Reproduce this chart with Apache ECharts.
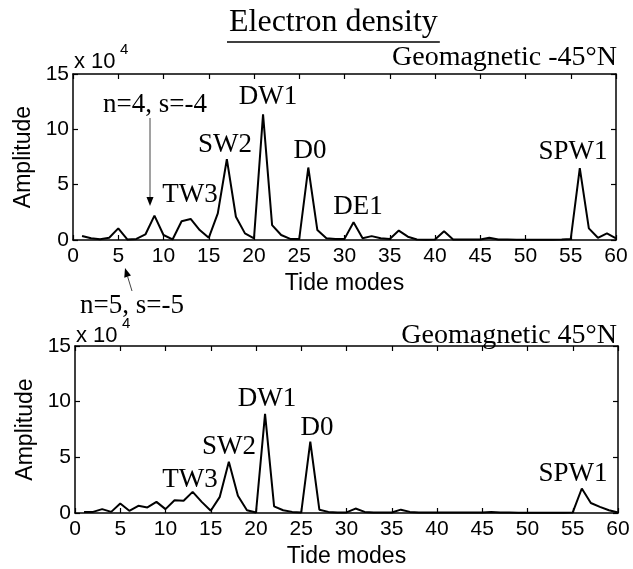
<!DOCTYPE html>
<html>
<head>
<meta charset="utf-8">
<script src="https://cdn.jsdelivr.net/npm/echarts@6/dist/echarts.min.js"></script>
<style>
  html, body { margin: 0; padding: 0; background: #fff; }
  #main { width: 633px; height: 569px; }
</style>
</head>
<body>
<div id="main"></div>
<script>
// tide mode index 1..60
var modes = [];
for (var i = 1; i <= 60; i++) modes.push(i);

// amplitude (x 10^4), geomagnetic -45N
var southAmp = [0.36, 0.15, 0.06, 0.2, 1.05, 0.05, 0.1, 0.5, 2.2, 0.45,
  0.05, 1.7, 1.9, 0.9, 0.2, 2.4, 7.3, 2.1, 0.6, 0.15,
  11.35, 1.35, 0.45, 0.1, 0.1, 6.55, 0.9, 0.15, 0.1, 0.1,
  1.6, 0.15, 0.35, 0.15, 0.1, 0.85, 0.3, 0.05, 0.03, 0.05,
  0.8, 0.05, 0.05, 0.05, 0.05, 0.2, 0.05, 0.05, 0.03, 0.03,
  0.03, 0.03, 0.03, 0.05, 0.1, 6.5, 1.05, 0.2, 0.6, 0.15];

// amplitude (x 10^4), geomagnetic 45N
var northAmp = [0.1, 0.1, 0.35, 0.1, 0.85, 0.2, 0.65, 0.5, 1.0, 0.35,
  1.15, 1.1, 1.9, 1.0, 0.2, 1.45, 4.6, 1.55, 0.25, 0.05,
  8.9, 0.6, 0.25, 0.1, 0.05, 6.4, 0.3, 0.1, 0.05, 0.05,
  0.4, 0.1, 0.05, 0.05, 0.05, 0.3, 0.1, 0.05, 0.05, 0.05,
  0.05, 0.05, 0.05, 0.05, 0.05, 0.1, 0.05, 0.05, 0.03, 0.03,
  0.03, 0.03, 0.03, 0.03, 0.05, 2.2, 0.9, 0.55, 0.25, 0.05];

var yTicks = [0, 5, 10, 15];

var sans = 'Liberation Sans';
var serif = 'Liberation Serif';
var titleText = 'Electron density';

function pairs(vals) {
  return modes.map(function (m, k) { return [m, vals[k]]; });
}

var myChart = echarts.init(document.getElementById('main'));

var grids = [
  { left: 73, top: 74, right: 17, height: 166 },
  { left: 75, top: 346, right: 15, height: 167 }
];

var xAxes = [], yAxes = [];
grids.forEach(function (g, gi) {
  ['bottom', 'top'].forEach(function (pos) {
    xAxes.push({
      gridIndex: gi, type: 'value', position: pos, min: 0, max: 60, interval: 5,
      axisLine: { show: true, onZero: false, lineStyle: { color: '#000', width: 1.5 } },
      axisTick: { show: true, inside: true, length: 5, lineStyle: { color: '#000', width: 1.2 } },
      axisLabel: { show: pos === 'bottom', color: '#000', fontFamily: sans, fontSize: 21, margin: 6 },
      splitLine: { show: false },
      name: pos === 'bottom' ? 'Tide modes' : '',
      nameLocation: 'middle', nameGap: 32,
      nameTextStyle: { color: '#000', fontFamily: sans, fontSize: 23 }
    });
  });
  ['left', 'right'].forEach(function (pos) {
    yAxes.push({
      gridIndex: gi, type: 'value', position: pos, min: 0, max: 15, interval: 5,
      axisLine: { show: true, onZero: false, lineStyle: { color: '#000', width: 1.5 } },
      axisTick: { show: true, inside: true, length: 5, lineStyle: { color: '#000', width: 1.2 } },
      axisLabel: {
        show: pos === 'left', color: '#000', fontFamily: sans, fontSize: 21, margin: 4,
        formatter: function (v) { return yTicks.indexOf(v) >= 0 ? String(v) : ''; }
      },
      splitLine: { show: false },
      name: pos === 'left' ? 'Amplitude' : '',
      nameLocation: 'middle', nameGap: 30,
      nameTextStyle: { color: '#000', fontFamily: sans, fontSize: 23 }
    });
  });
});

function txt(x, y, s, size, font, align) {
  return {
    type: 'text', x: x, y: y,
    style: { text: s, fill: '#000', font: size + 'px "' + (font || serif) + '"',
      textAlign: align || 'center', textVerticalAlign: 'middle' }
  };
}

function expLabel(x, y) {
  return {
    type: 'group', children: [
      txt(x, y, 'x 10', 22, sans, 'left'),
      txt(x + 46, y - 12, '4', 15, sans, 'left')
    ]
  };
}

function arrow(x1, y1, x2, y2) {
  var ang = Math.atan2(y2 - y1, x2 - x1);
  var L = 9, W = 3.5;
  var bx = x2 - L * Math.cos(ang), by = y2 - L * Math.sin(ang);
  var px = -Math.sin(ang) * W, py = Math.cos(ang) * W;
  return {
    type: 'group', children: [
      { type: 'line', shape: { x1: x1, y1: y1, x2: bx, y2: by }, style: { stroke: '#444', lineWidth: 1 } },
      { type: 'polygon', shape: { points: [[x2, y2], [bx + px, by + py], [bx - px, by - py]] }, style: { fill: '#000' } }
    ]
  };
}

// width of the title, for the underline
var ctx = document.createElement('canvas').getContext('2d');
ctx.font = '32px "' + serif + '"';
var titleW = ctx.measureText(titleText).width;

var option = {
  animation: false,
  backgroundColor: '#fff',
  grid: grids,
  xAxis: xAxes,
  yAxis: yAxes,
  series: [
    {
      type: 'line', xAxisIndex: 0, yAxisIndex: 0, data: pairs(southAmp),
      showSymbol: false, lineStyle: { color: '#000', width: 2 }
    },
    {
      type: 'line', xAxisIndex: 2, yAxisIndex: 2, data: pairs(northAmp),
      showSymbol: false, lineStyle: { color: '#000', width: 2 }
    }
  ],
  graphic: [
    txt(229, 23, titleText, 32, serif, 'left'),
    { type: 'line', shape: { x1: 227, y1: 42, x2: 231 + titleW, y2: 42 }, style: { stroke: '#000', lineWidth: 1.5 } },
    txt(617, 58, 'Geomagnetic -45°N', 28, serif, 'right'),
    txt(617, 336, 'Geomagnetic 45°N', 28, serif, 'right'),
    expLabel(74, 62),
    expLabel(76, 336),
    // top panel labels
    txt(155, 105, 'n=4, s=-4', 27),
    arrow(150, 118, 150, 206),
    txt(190, 195, 'TW3', 27),
    txt(225, 145, 'SW2', 27),
    txt(268, 97, 'DW1', 27),
    txt(310, 151, 'D0', 27),
    txt(358, 207, 'DE1', 27),
    txt(573, 152, 'SPW1', 27),
    // between panels
    arrow(132, 291, 125, 268),
    txt(132, 306, 'n=5, s=-5', 27),
    // bottom panel labels
    txt(190, 480, 'TW3', 27),
    txt(229, 447, 'SW2', 27),
    txt(267, 399, 'DW1', 27),
    txt(317, 428, 'D0', 27),
    txt(573, 474, 'SPW1', 27)
  ]
};

myChart.setOption(option);
window.onresize = function () {
  myChart.resize();
};
</script>
</body>
</html>
